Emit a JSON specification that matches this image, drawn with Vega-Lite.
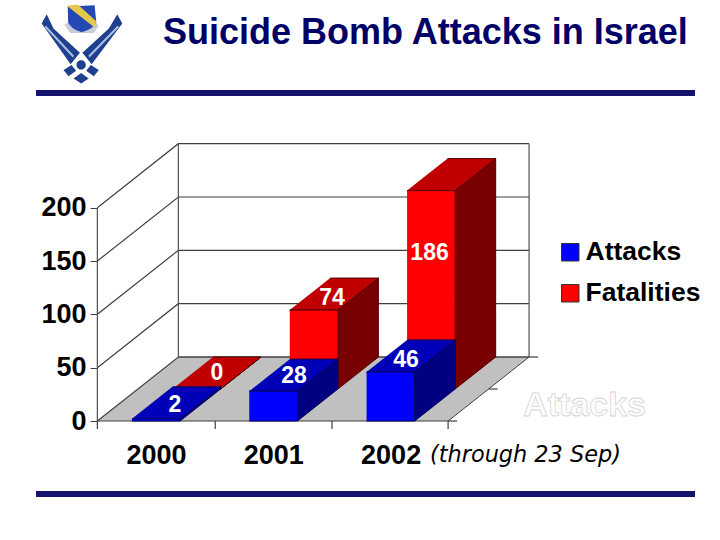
{
  "$schema": "https://vega.github.io/schema/vega-lite/v6.json",
  "width": 720,
  "height": 540,
  "autosize": {"type": "none"},
  "padding": 0,
  "background": "white",
  "title": {
    "text": "Suicide Bomb Attacks in Israel",
    "anchor": "start",
    "frame": "group",
    "dx": 163,
    "offset": -52,
    "font": "Liberation Sans",
    "fontSize": 36,
    "fontWeight": "bold",
    "color": "#000066"
  },
  "datasets": {
    "counts": [
      {"year": 2000, "series": "Fatalities", "value": 0},
      {"year": 2001, "series": "Fatalities", "value": 74},
      {"year": 2002, "series": "Fatalities", "value": 186},
      {"year": 2000, "series": "Attacks", "value": 2},
      {"year": 2001, "series": "Attacks", "value": 28},
      {"year": 2002, "series": "Attacks", "value": 46}
    ],
    "levels": [{"level": 0}, {"level": 50}, {"level": 100}, {"level": 150}, {"level": 200}],
    "floor": [
      {"corner": 0, "yr": 1999.5, "d": 0},
      {"corner": 1, "yr": 2002.49, "d": 0},
      {"corner": 2, "yr": 2002.49, "d": 1},
      {"corner": 3, "yr": 1999.5, "d": 1}
    ],
    "edges": [
      {"yr": 1999.5, "d": 0},
      {"yr": 1999.5, "d": 1},
      {"yr": 2002.49, "d": 1}
    ],
    "xticks": [{"px": 1999.5}, {"px": 2000.505}, {"px": 2001.5}, {"px": 2002.49}],
    "dticks": [{"d": 0}, {"d": 0.5}, {"d": 1}],
    "labels": [
      {"label": "186", "px": 2002.332, "py": 157.5},
      {"label": "74", "px": 2001.5, "py": 115.3},
      {"label": "0", "px": 2000.52, "py": 45},
      {"label": "2", "px": 2000.162, "py": 15},
      {"label": "28", "px": 2001.176, "py": 42.2},
      {"label": "46", "px": 2002.131, "py": 57.2}
    ]
  },
  "encoding": {
    "x": {
      "field": "px",
      "type": "quantitative",
      "title": null,
      "scale": {"domain": [1998.67, 2004.808], "nice": false, "zero": false},
      "axis": {
        "values": [2000, 2001, 2002],
        "format": "d",
        "offset": -119,
        "domain": false,
        "grid": false,
        "ticks": false,
        "labelPadding": 21,
        "labelFont": "Liberation Sans",
        "labelFontSize": 27,
        "labelFontWeight": "bold",
        "labelColor": "black",
        "labelFlush": false,
        "labelOverlap": false
      }
    },
    "y": {
      "field": "py",
      "type": "quantitative",
      "title": null,
      "scale": {"domain": [-111.56, 394.7], "nice": false, "zero": false},
      "axis": {
        "values": [0, 50, 100, 150, 200],
        "offset": -97,
        "domain": false,
        "grid": false,
        "tickSize": 7,
        "tickColor": "#404040",
        "labelPadding": 4,
        "labelDy": 3,
        "labelFont": "Liberation Sans",
        "labelFontSize": 27,
        "labelFontWeight": "bold",
        "labelColor": "black",
        "labelOverlap": false
      }
    }
  },
  "layer": [
    {
      "data": {"name": "floor"},
      "transform": [
        {"calculate": "datum.yr + datum.d * 0.6905", "as": "px"},
        {"calculate": "datum.d * 60", "as": "py"}
      ],
      "mark": {"type": "line", "fill": "#c0c0c0", "stroke": "#404040", "strokeWidth": 1},
      "encoding": {"order": {"field": "corner", "type": "ordinal"}}
    },
    {
      "data": {"name": "levels"},
      "transform": [
        {"calculate": "[0, 1, 2]", "as": "corner"},
        {"flatten": ["corner"]},
        {"calculate": "datum.corner == 0 ? 1999.5 : datum.corner == 1 ? 1999.5 + 0.6905 : 2002.49 + 0.6905", "as": "px"},
        {"calculate": "datum.level + (datum.corner == 0 ? 0 : 60)", "as": "py"}
      ],
      "mark": {"type": "line", "stroke": "#404040", "strokeWidth": 1.2},
      "encoding": {
        "detail": {"field": "level", "type": "nominal"},
        "order": {"field": "corner", "type": "ordinal"}
      }
    },
    {
      "data": {"name": "edges"},
      "transform": [
        {"calculate": "datum.yr + datum.d * 0.6905", "as": "px"},
        {"calculate": "datum.d * 60", "as": "py"},
        {"calculate": "200 + datum.d * 60", "as": "py2"}
      ],
      "mark": {"type": "rule", "stroke": "#505050", "strokeWidth": 1.2},
      "encoding": {"y2": {"field": "py2"}}
    },
    {
      "data": {"name": "xticks"},
      "transform": [
        {"calculate": "0", "as": "py"},
        {"calculate": "-7.5", "as": "py2"}
      ],
      "mark": {"type": "rule", "stroke": "#404040", "strokeWidth": 1.2},
      "encoding": {"y2": {"field": "py2"}}
    },
    {
      "data": {"name": "dticks"},
      "transform": [
        {"calculate": "2002.49 + datum.d * 0.6905", "as": "px"},
        {"calculate": "datum.px + 0.077", "as": "px2"},
        {"calculate": "datum.d * 60", "as": "py"}
      ],
      "mark": {"type": "rule", "stroke": "#404040", "strokeWidth": 1.2},
      "encoding": {"x2": {"field": "px2"}}
    },
    {
      "data": {"name": "counts"},
      "transform": [
        {"calculate": "datum.series == 'Attacks' ? 0 : 0.5", "as": "d0"},
        {"calculate": "['side', 'top', 'front']", "as": "face"},
        {"flatten": ["face"]},
        {"calculate": "[0, 1, 2, 3]", "as": "corner"},
        {"flatten": ["corner"]},
        {"calculate": "datum.face == 'front' ? datum.series : datum.series + ' ' + datum.face", "as": "shade"},
        {"calculate": "datum.face == 'side' ? 1 : (datum.corner == 1 || datum.corner == 2 ? 1 : -1)", "as": "u"},
        {"calculate": "datum.d0 + (datum.face == 'front' ? 0 : datum.face == 'top' ? (datum.corner < 2 ? 0 : 0.5) : (datum.corner == 1 || datum.corner == 2 ? 0.5 : 0))", "as": "depth"},
        {"calculate": "datum.face == 'top' || datum.corner >= 2 ? datum.value : 0", "as": "lev"},
        {"calculate": "datum.year + datum.u * 0.205 + datum.depth * 0.6905", "as": "px"},
        {"calculate": "datum.lev + datum.depth * 60", "as": "py"}
      ],
      "mark": {"type": "line", "strokeWidth": 1},
      "encoding": {
        "detail": {"field": "year", "type": "nominal"},
        "order": {"field": "corner", "type": "ordinal"},
        "fill": {
          "field": "shade",
          "type": "nominal",
          "scale": {
            "domain": ["Attacks", "Fatalities", "Attacks top", "Attacks side", "Fatalities top", "Fatalities side"],
            "range": ["#0000ff", "#ff0000", "#0000b8", "#000080", "#c00000", "#780000"]
          },
          "legend": {
            "values": ["Attacks", "Fatalities"],
            "title": null,
            "orient": "none",
            "legendX": 557,
            "legendY": 239,
            "symbolType": "square",
            "symbolSize": 306,
            "symbolStrokeColor": "#333333",
            "symbolStrokeWidth": 1,
            "symbolOpacity": 1,
            "rowPadding": 14,
            "labelFont": "Liberation Sans",
            "labelFontSize": 26.5,
            "labelFontWeight": "bold",
            "labelColor": "black",
            "labelLimit": 200,
            "labelOffset": 2
          }
        },
        "stroke": {
          "field": "series",
          "type": "nominal",
          "scale": {"domain": ["Attacks", "Fatalities"], "range": ["#000060", "#500000"]},
          "legend": null
        }
      }
    },
    {
      "data": {"name": "labels"},
      "mark": {"type": "text", "font": "Liberation Sans", "fontSize": 23, "fontWeight": "bold", "fill": "white", "align": "center", "baseline": "middle"},
      "encoding": {"text": {"field": "label"}}
    },
    {
      "data": {"values": [{"note": "Attacks", "px": 2003.13, "py": 14}]},
      "mark": {"type": "text", "font": "Liberation Sans", "fontSize": 34, "fontWeight": "bold", "fill": "white", "stroke": "#d4d4d4", "strokeWidth": 0.8, "align": "left", "baseline": "middle"},
      "encoding": {"text": {"field": "note"}}
    },
    {
      "data": {"values": [{"note": "(through 23 Sep)", "px": 2002.336, "py": -32}]},
      "mark": {"type": "text", "font": "DejaVu Sans", "fontSize": 22.4, "fontStyle": "italic", "fill": "black", "align": "left", "baseline": "middle"},
      "encoding": {"text": {"field": "note"}}
    },
    {
      "data": {"values": [{"px": 1998.977, "px2": 2004.595, "py": 307.5}, {"px": 1998.977, "px2": 2004.595, "py": -68.4}]},
      "mark": {"type": "rule", "stroke": "#14146e", "strokeWidth": 6},
      "encoding": {"x2": {"field": "px2"}}
    },
    {
      "data": {"values": [{"px": 1999.369, "py": 351.1}]},
      "mark": {"type": "point", "filled": true, "opacity": 1, "size": 7056, "color": "#c8ccd4", "shape": "M-0.42 -0.52 L-0.3 -0.58 L0.3 -0.58 L0.4 -0.5 L0.28 -0.32 L-0.28 -0.32 Z"}
    },
    {
      "data": {"values": [{"px": 1999.369, "py": 351.1}]},
      "mark": {"type": "point", "filled": true, "opacity": 1, "size": 7056, "color": "#1f3f8f", "shape": "M-0.84 -0.77 L-0.96 -0.55 L-0.27 0.42 L-0.05 0.15 L-0.68 -0.43 Z M0.84 -0.77 L0.96 -0.55 L0.23 0.42 L0.01 0.15 L0.64 -0.43 Z M-0.44 0.56 L-0.25 0.44 L-0.14 0.58 L-0.32 0.71 Z M0.4 0.56 L0.21 0.44 L0.1 0.58 L0.28 0.71 Z M-0.02 0.63 L0.16 0.76 L-0.02 0.88 L-0.2 0.76 Z M-0.02 0.33 A0.11 0.11 0 1 1 -0.02 0.55 A0.11 0.11 0 1 1 -0.02 0.33 Z"}
    },
    {
      "data": {"values": [{"px": 1999.369, "py": 351.1}]},
      "mark": {"type": "point", "filled": true, "opacity": 1, "size": 7056, "color": "#a9bde0", "shape": "M-0.86 -0.5 L-0.19 0.22 L-0.22 0.26 L-0.89 -0.46 Z M0.85 -0.5 L0.15 0.22 L0.18 0.26 L0.88 -0.46 Z"}
    },
    {
      "data": {"values": [{"px": 1999.369, "py": 351.1}]},
      "mark": {"type": "point", "filled": true, "opacity": 1, "size": 7056, "color": "#2448b4", "shape": "M-0.34 -0.95 L0.3 -0.98 L0.34 -0.58 Q0.28 -0.42 -0.01 -0.34 Q-0.27 -0.42 -0.33 -0.58 Z"}
    },
    {
      "data": {"values": [{"px": 1999.369, "py": 351.1}]},
      "mark": {"type": "point", "filled": true, "opacity": 1, "size": 7056, "color": "#e6c84a", "shape": "M-0.36 -0.97 L-0.1 -1 L0.34 -0.6 L0.29 -0.46 Z"}
    }
  ],
  "config": {"view": {"stroke": null}}
}
